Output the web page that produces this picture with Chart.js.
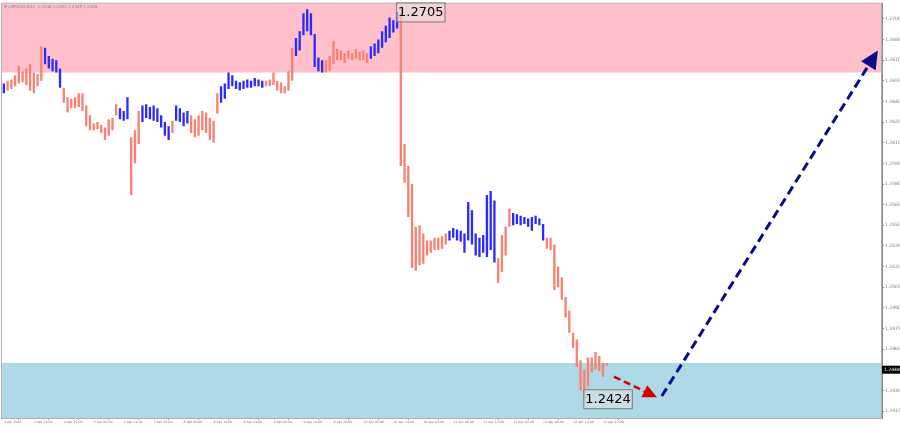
<!DOCTYPE html>
<html>
<head>
<meta charset="utf-8">
<script src="https://cdn.jsdelivr.net/npm/chart.js@4.4.1/dist/chart.umd.min.js"></script>
<style>
  html, body { margin: 0; padding: 0; background: #fff; }
  canvas { display: block; }
</style>
</head>
<body>
<canvas id="priceChart" width="900" height="430"></canvas>
<script>
'use strict';

// GBPUSD, hourly slots (4 Apr 06:00 .. 12 Apr 23:00)
var highs = [
  1.2653,1.2655,1.2656,1.2659,1.2666,1.2662,1.2664,1.2667,1.2661,1.2660,
  1.2680,1.2679,1.2673,1.2671,1.2670,1.2664,1.2650,1.2643,1.2642,1.2643,
  1.2646,1.2646,1.2637,1.2630,1.2624,1.2625,1.2623,1.2621,1.2627,1.2628,
  1.2638,1.2635,1.2633,1.2643,1.2614,1.2619,1.2633,1.2637,1.2638,1.2636,
  1.2637,1.2635,1.2630,1.2625,1.2622,1.2626,1.2637,1.2635,1.2632,1.2633,
  1.2630,1.2627,1.2630,1.2633,1.2632,1.2628,1.2626,1.2646,1.2651,1.2653,
  1.2661,1.2659,1.2655,1.2654,1.2655,1.2656,1.2655,1.2657,1.2656,1.2655,
  1.2655,1.2656,1.2661,1.2655,1.2654,1.2651,1.2662,1.2679,1.2686,1.2691,
  1.2704,1.2707,1.2704,1.2689,1.2672,1.2670,1.2670,1.2673,1.2684,1.2678,
  1.2677,1.2675,1.2677,1.2675,1.2678,1.2676,1.2677,1.2675,1.2680,1.2682,
  1.2685,1.2691,1.2695,1.2701,1.2699,1.2705,1.2704,1.2609,1.2593,1.2580,
  1.2549,1.2550,1.2544,1.2539,1.2539,1.2541,1.2541,1.2542,1.2544,1.2546,
  1.2548,1.2547,1.2546,1.2544,1.2567,1.2561,1.2544,1.2541,1.2543,1.2572,
  1.2575,1.2568,1.2526,1.2543,1.2549,1.2562,1.2559,1.2558,1.2557,1.2556,
  1.2555,1.2556,1.2557,1.2555,1.2551,1.2541,1.2541,1.2536,1.2520,1.2512,
  1.2498,1.2488,1.2472,1.2467,1.2452,1.2445,1.2454,1.2454,1.2458,1.2455,
  1.2450,1.2450
];
var lows = [
  1.2646,1.2648,1.2649,1.2651,1.2653,1.2654,1.2652,1.2648,1.2646,1.2651,
  1.2655,1.2667,1.2664,1.2662,1.2661,1.2650,1.2639,1.2632,1.2635,1.2635,
  1.2636,1.2633,1.2622,1.2619,1.2619,1.2620,1.2617,1.2612,1.2615,1.2619,
  1.2630,1.2627,1.2626,1.2627,1.2572,1.2595,1.2609,1.2625,1.2628,1.2627,
  1.2626,1.2625,1.2621,1.2615,1.2612,1.2617,1.2626,1.2625,1.2622,1.2624,
  1.2617,1.2614,1.2615,1.2619,1.2617,1.2612,1.2610,1.2631,1.2639,1.2642,
  1.2649,1.2651,1.2649,1.2648,1.2649,1.2650,1.2650,1.2651,1.2651,1.2650,
  1.2651,1.2651,1.2652,1.2648,1.2646,1.2646,1.2648,1.2655,1.2673,1.2677,
  1.2688,1.2691,1.2688,1.2665,1.2662,1.2661,1.2661,1.2662,1.2667,1.2670,
  1.2670,1.2668,1.2671,1.2670,1.2671,1.2670,1.2670,1.2668,1.2671,1.2673,
  1.2675,1.2679,1.2683,1.2686,1.2690,1.2693,1.2593,1.2581,1.2556,1.2519,
  1.2517,1.2521,1.2522,1.2528,1.2530,1.2532,1.2532,1.2533,1.2536,1.2539,
  1.2541,1.2539,1.2538,1.2530,1.2539,1.2536,1.2528,1.2527,1.2530,1.2527,
  1.2532,1.2523,1.2508,1.2516,1.2528,1.2549,1.2550,1.2551,1.2550,1.2551,
  1.2549,1.2546,1.2551,1.2550,1.2539,1.2533,1.2532,1.2503,1.2505,1.2496,
  1.2483,1.2472,1.2461,1.2447,1.2430,1.2424,1.2433,1.2443,1.2445,1.2444,
  1.2440,1.2448
];

// wave legs (bar counts), first leg blue, then alternating salmon / blue
var waveLegs = [1,10,5,15,3,3,8,1,4,8,12,8,8,12,8,13,13,4,9,17];

var totalSlots = 235;   // includes empty future space on the right
var xTickLabels = ["4 Apr 2024","4 Apr 14:00","4 Apr 22:00","5 Apr 06:00","5 Apr 14:00",
  "5 Apr 22:00","8 Apr 06:00","8 Apr 14:00","8 Apr 22:00","9 Apr 06:00","9 Apr 14:00",
  "9 Apr 22:00","10 Apr 06:00","10 Apr 14:00","10 Apr 22:00","11 Apr 06:00","11 Apr 14:00",
  "11 Apr 22:00","12 Apr 06:00","12 Apr 14:00","12 Apr 22:00"];
var xTickStep = 8;
var priceTicks = [1.2415,1.2430,1.2445,1.2460,1.2475,1.2490,1.2505,1.2520,1.2535,1.2550,
  1.2565,1.2580,1.2595,1.2610,1.2625,1.2640,1.2655,1.2670,1.2685,1.2700];

var resistanceZone = [1.2661, 1.2711];
var supportZone = [1.2410, 1.2450];
var pivotSlots = [105, 155];   // 1.2705 high, 1.2424 low
var redArrow = [[162.9, 1.2440], [174.4, 1.2425]];
var blueArrow = [[175.7, 1.2426], [233.4, 1.2677]];
var titleText = "\u25BC GBPUSD,M30  1.2448 1.2450 1.2445 1.2448";
var lastPrice = 1.2448;

var colors = {
  salmon : "#fa8072",
  blue : "#2b2bff",
  pink : "#ffc0cb",
  lightBlue : "#add8e6",
  axis : "#8a8a8a",
  text : "#777",
  redArrow : "#d50000",
  navy : "#0a0a8c"
};

// build categories and bar colours
var slotLabels = [];
for (var i = 0; i < totalSlots; i++) {
  slotLabels.push(i % xTickStep === 0 && i / xTickStep < xTickLabels.length ? xTickLabels[i / xTickStep] : '');
}
var barColors = [];
waveLegs.forEach(function(n, k) {
  for (var j = 0; j < n; j++) barColors.push(k % 2 === 0 ? colors.blue : colors.salmon);
});

function drawArrow(ctx, x1, y1, x2, y2, color, width, dash, head) {
  var ang = Math.atan2(y2 - y1, x2 - x1);
  var bx = x2 - head * Math.cos(ang), by = y2 - head * Math.sin(ang);
  var hw = head * 0.48;
  ctx.save();
  ctx.strokeStyle = color;
  ctx.lineWidth = width;
  ctx.setLineDash(dash);
  ctx.beginPath();
  ctx.moveTo(x1, y1);
  ctx.lineTo(bx, by);
  ctx.stroke();
  ctx.setLineDash([]);
  ctx.fillStyle = color;
  ctx.beginPath();
  ctx.moveTo(x2, y2);
  ctx.lineTo(bx + hw * Math.sin(ang), by - hw * Math.cos(ang));
  ctx.lineTo(bx - hw * Math.sin(ang), by + hw * Math.cos(ang));
  ctx.closePath();
  ctx.fill();
  ctx.restore();
}

var zonesPlugin = {
  id : 'zones',
  beforeDatasetsDraw : function(chart) {
    var ctx = chart.ctx, a = chart.chartArea, y = chart.scales.y;
    ctx.save();
    [[resistanceZone, colors.pink], [supportZone, colors.lightBlue]].forEach(function(z) {
      var top = Math.max(a.top, y.getPixelForValue(z[0][1]));
      var bot = Math.min(a.bottom, y.getPixelForValue(z[0][0]));
      ctx.fillStyle = z[1];
      ctx.fillRect(a.left, top, a.right - a.left, bot - top);
    });
    ctx.restore();
  }
};

var marksPlugin = {
  id : 'marks',
  afterDraw : function(chart) {
    var ctx = chart.ctx, a = chart.chartArea, x = chart.scales.x, y = chart.scales.y;

    // frame
    ctx.save();
    ctx.strokeStyle = '#b0b0b0';
    ctx.lineWidth = 1;
    ctx.strokeRect(a.left - 0.5, a.top - 0.5, a.right - a.left, a.bottom - a.top + 1);
    ctx.restore();

    // title
    ctx.save();
    ctx.fillStyle = '#8a8a8a';
    ctx.font = "4px 'DejaVu Sans'";
    ctx.textBaseline = 'middle';
    ctx.fillText(titleText, a.left + 2, a.top + 3);
    ctx.restore();

    // forecast arrows
    drawArrow(ctx, x.getPixelForValue(redArrow[0][0]), y.getPixelForValue(redArrow[0][1]),
      x.getPixelForValue(redArrow[1][0]), y.getPixelForValue(redArrow[1][1]),
      colors.redArrow, 2.5, [7, 4], 14);
    drawArrow(ctx, x.getPixelForValue(blueArrow[0][0]), y.getPixelForValue(blueArrow[0][1]),
      x.getPixelForValue(blueArrow[1][0]), y.getPixelForValue(blueArrow[1][1]),
      colors.navy, 3, [9, 5], 18);

    // pivot price boxes
    ctx.save();
    ctx.font = "13px 'DejaVu Sans'";
    ctx.textBaseline = 'middle';
    pivotSlots.forEach(function(s, k) {
      var price = k === 0 ? highs[s] : lows[s];
      var txt = price.toFixed(4);
      var px = x.getPixelForValue(s) - 1;
      var py = y.getPixelForValue(price);
      var w = ctx.measureText(txt).width + 3;
      ctx.fillStyle = 'rgba(228,228,228,0.55)';
      ctx.fillRect(px, py - 9.5, w, 19);
      ctx.strokeStyle = '#7a7a7a';
      ctx.lineWidth = 1;
      ctx.strokeRect(px + 0.5, py - 9, w, 19);
      ctx.fillStyle = '#000';
      ctx.fillText(txt, px + 2, py + 0.5);
    });
    ctx.restore();

    // current price tag on the axis
    ctx.save();
    var ty = y.getPixelForValue(lastPrice);
    ctx.fillStyle = '#000';
    ctx.fillRect(a.right, ty, 18, 8);
    ctx.fillStyle = '#fff';
    ctx.font = "4.5px 'DejaVu Sans'";
    ctx.textBaseline = 'middle';
    ctx.fillText(lastPrice.toFixed(4), a.right + 2, ty + 4);
    ctx.restore();
  }
};

new Chart(document.getElementById('priceChart'), {
  type : 'bar',
  data : {
    labels : slotLabels,
    datasets : [ {
      data : lows.map(function(lo, k) { return [lo, highs[k]]; }),
      backgroundColor : barColors,
      borderWidth : 0,
      borderSkipped : false,
      barPercentage : 0.62,
      categoryPercentage : 1
    } ]
  },
  options : {
    responsive : false,
    animation : false,
    layout : { padding : { left : 2, top : 3, right : 0, bottom : 0 } },
    plugins : {
      legend : { display : false },
      tooltip : { enabled : false }
    },
    scales : {
      x : {
        type : 'category',
        offset : true,
        grid : { display : true, drawOnChartArea : false, tickLength : 2, color : '#999' },
        border : { display : true, color : '#999' },
        ticks : {
          autoSkip : false,
          maxRotation : 0,
          minRotation : 0,
          align : 'start',
          padding : 0,
          color : colors.text,
          font : { size : 3.2, family : "'DejaVu Sans'" },
          callback : function(v, k) { return slotLabels[k] ? slotLabels[k] : null; }
        },
        afterFit : function(s) { s.height = 12; }
      },
      y : {
        position : 'right',
        min : 1.2410,
        max : 1.2711,
        grid : { display : true, drawOnChartArea : false, tickLength : 2, color : colors.axis },
        border : { display : true, color : colors.axis },
        afterBuildTicks : function(s) {
          s.ticks = priceTicks.map(function(v) { return { value : v }; });
        },
        ticks : {
          padding : 1,
          color : colors.text,
          font : { size : 4.5, family : "'DejaVu Sans'" },
          callback : function(v) { return Number(v).toFixed(4); }
        },
        afterFit : function(s) { s.width = 18; }
      }
    }
  },
  plugins : [ zonesPlugin, marksPlugin ]
});
</script>
</body>
</html>
